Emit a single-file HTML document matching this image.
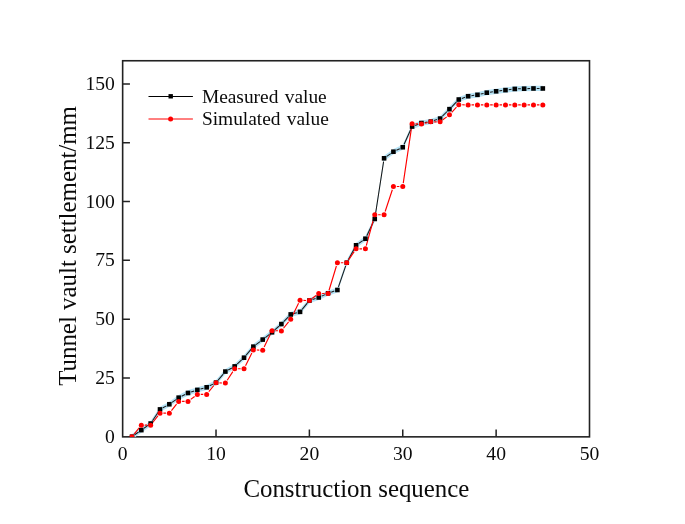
<!DOCTYPE html>
<html><head><meta charset="utf-8"><style>
html,body{margin:0;padding:0;background:#fff;}
body{width:685px;height:524px;overflow:hidden;}
svg{display:block;}
text{font-family:"Liberation Serif",serif;fill:#0a0a0a;}
svg{will-change:transform;}
</style></head><body>
<svg width="685" height="524" viewBox="0 0 685 524">
<defs><filter id="b" x="-5%" y="-5%" width="110%" height="110%"><feGaussianBlur stdDeviation="0.6"/></filter></defs>
<rect width="685" height="524" fill="#fff"/>
<clipPath id="c"><rect x="122.15" y="60" width="467.85" height="377.0"/></clipPath>
<rect x="122.65" y="60.75" width="466.85" height="376.10" fill="none" stroke="#222" stroke-width="1.6"/><path d="M122.65 377.92h7.3M122.65 319.13h7.3M122.65 260.35h7.3M122.65 201.57h7.3M122.65 142.78h7.3M122.65 84.00h7.3M216.02 436.7v-7.3M309.39 436.7v-7.3M402.76 436.7v-7.3M496.13 436.7v-7.3" stroke="#222" stroke-width="1.5" fill="none"/>
<g clip-path="url(#c)"><polygon points="131.99,434.10 141.32,427.52 150.66,420.93 160.00,406.82 169.34,401.65 178.67,395.07 188.01,390.37 197.35,387.31 206.68,384.72 216.02,380.02 225.36,368.97 234.69,363.80 244.03,355.10 253.37,344.04 262.71,336.99 272.04,329.70 281.38,321.47 290.72,311.83 300.05,309.24 309.39,297.96 318.73,294.90 328.06,290.67 337.40,287.38 346.74,260.10 356.08,242.70 365.41,236.12 374.75,216.37 384.09,155.70 393.42,149.12 402.76,144.65 412.10,123.96 421.43,120.43 430.77,119.02 440.11,115.96 449.45,106.56 458.78,96.92 468.12,93.63 477.46,92.22 486.79,90.10 496.13,88.69 505.47,87.51 514.80,86.34 524.14,86.10 533.48,85.87 542.82,85.87 542.82,91.07 533.48,91.07 524.14,91.30 514.80,91.54 505.47,92.71 496.13,93.89 486.79,95.30 477.46,97.42 468.12,98.83 458.78,102.12 449.45,111.76 440.11,121.16 430.77,124.22 421.43,125.63 412.10,129.16 402.76,149.85 393.42,154.32 384.09,160.90 374.75,221.57 365.41,241.32 356.08,247.90 346.74,265.30 337.40,292.58 328.06,295.87 318.73,300.10 309.39,303.16 300.05,314.44 290.72,317.03 281.38,326.67 272.04,334.90 262.71,342.19 253.37,349.24 244.03,360.30 234.69,369.00 225.36,374.17 216.02,385.22 206.68,389.92 197.35,392.51 188.01,395.57 178.67,400.27 169.34,406.85 160.00,412.02 150.66,426.13 141.32,432.72 131.99,439.30" fill="#b6e3f6" filter="url(#b)"/><path d="M134.68 434.80L138.63 432.02M144.02 428.21L147.96 425.43M152.48 420.78L158.18 412.18M162.88 407.83L166.45 405.85M172.03 402.35L175.98 399.57M181.62 396.18L185.06 394.45M191.15 391.94L194.21 390.94M200.53 389.03L203.50 388.20M209.63 385.84L213.07 384.10M218.15 380.10L223.23 374.09M228.24 369.97L231.81 367.99M237.11 364.15L241.62 359.94M246.16 355.17L251.24 349.16M256.00 344.65L260.07 341.58M265.31 337.56L269.44 334.33M274.52 330.12L278.90 326.25M283.67 321.70L288.42 316.80M293.90 313.55L296.87 312.73M302.16 309.30L307.29 303.10M312.53 299.53L315.59 298.53M321.73 296.14L325.06 294.63M331.18 292.17L334.29 291.07M338.47 286.85L345.67 265.82M348.30 259.79L354.51 248.21M358.77 243.40L362.72 240.62M366.82 235.73L373.34 221.95M375.25 215.70L383.58 161.56M386.78 156.40L390.73 153.62M396.40 150.29L399.78 148.68M404.12 144.24L410.74 129.57M415.18 125.39L418.35 124.20M424.70 122.54L427.51 122.11M433.91 120.59L436.97 119.59M442.43 116.22L447.12 111.50M451.74 106.79L456.49 101.89M461.89 98.42L465.01 97.32M471.38 95.73L474.19 95.31M480.67 94.09L483.57 93.43M490.06 92.21L492.87 91.78M499.40 90.88L502.19 90.53M508.74 89.70L511.53 89.35M518.10 88.85L520.84 88.79M527.44 88.62L530.18 88.55M536.78 88.47L539.52 88.47" stroke="#1a1a1a" stroke-width="1.05" fill="none"/><path d="M134.13 434.06L139.18 427.82M144.72 425.18L147.26 425.18M152.75 422.50L157.91 415.87M163.40 413.19L165.94 413.19M171.45 410.52L176.56 404.09M182.07 401.43L184.61 401.43M190.72 399.38L194.63 396.43M200.75 394.38L203.28 394.38M208.82 391.73L213.88 385.50M219.42 382.94L221.96 383.00M227.21 380.24L232.84 371.60M238.09 368.75L240.63 368.75M245.54 365.70L251.86 352.98M256.77 350.02L259.31 350.09M264.17 347.10L270.57 333.72M275.44 330.74L277.98 330.80M283.51 328.24L288.59 321.90M292.22 316.20L298.55 303.37M303.45 300.41L305.99 300.47M312.10 298.51L316.01 295.55M322.13 293.50L324.66 293.50M329.05 290.25L336.41 265.96M340.80 262.70L343.34 262.70M348.64 259.88L354.18 251.65M359.48 248.83L362.01 248.83M366.31 245.55L373.85 218.01M378.15 214.73L380.69 214.73M385.15 211.51L392.35 189.75M396.82 186.52L399.36 186.52M403.26 183.16L411.60 127.10M415.50 123.82L418.04 123.89M424.75 123.22L427.46 122.61M434.17 121.86L436.71 121.86M442.82 119.81L446.73 116.85M451.75 112.30L456.48 107.19M462.18 104.78L464.72 104.84M471.52 104.93L474.06 104.93M480.86 104.93L483.39 104.93M490.19 104.93L492.73 104.93M499.53 104.93L502.07 104.93M508.87 104.93L511.40 104.93M518.20 104.93L520.74 104.93M527.54 104.93L530.08 104.93M536.88 104.93L539.42 104.93" stroke="#ff0000" stroke-width="1.15" fill="none"/><g fill="#000"><rect x="129.69" y="434.40" width="4.6" height="4.6"/><rect x="139.02" y="427.82" width="4.6" height="4.6"/><rect x="148.36" y="421.23" width="4.6" height="4.6"/><rect x="157.70" y="407.12" width="4.6" height="4.6"/><rect x="167.03" y="401.95" width="4.6" height="4.6"/><rect x="176.37" y="395.37" width="4.6" height="4.6"/><rect x="185.71" y="390.67" width="4.6" height="4.6"/><rect x="195.05" y="387.61" width="4.6" height="4.6"/><rect x="204.38" y="385.02" width="4.6" height="4.6"/><rect x="213.72" y="380.32" width="4.6" height="4.6"/><rect x="223.06" y="369.27" width="4.6" height="4.6"/><rect x="232.39" y="364.10" width="4.6" height="4.6"/><rect x="241.73" y="355.40" width="4.6" height="4.6"/><rect x="251.07" y="344.34" width="4.6" height="4.6"/><rect x="260.41" y="337.29" width="4.6" height="4.6"/><rect x="269.74" y="330.00" width="4.6" height="4.6"/><rect x="279.08" y="321.77" width="4.6" height="4.6"/><rect x="288.42" y="312.13" width="4.6" height="4.6"/><rect x="297.75" y="309.54" width="4.6" height="4.6"/><rect x="307.09" y="298.26" width="4.6" height="4.6"/><rect x="316.43" y="295.20" width="4.6" height="4.6"/><rect x="325.76" y="290.97" width="4.6" height="4.6"/><rect x="335.10" y="287.68" width="4.6" height="4.6"/><rect x="344.44" y="260.40" width="4.6" height="4.6"/><rect x="353.78" y="243.00" width="4.6" height="4.6"/><rect x="363.11" y="236.42" width="4.6" height="4.6"/><rect x="372.45" y="216.67" width="4.6" height="4.6"/><rect x="381.79" y="156.00" width="4.6" height="4.6"/><rect x="391.12" y="149.42" width="4.6" height="4.6"/><rect x="400.46" y="144.95" width="4.6" height="4.6"/><rect x="409.80" y="124.26" width="4.6" height="4.6"/><rect x="419.13" y="120.73" width="4.6" height="4.6"/><rect x="428.47" y="119.32" width="4.6" height="4.6"/><rect x="437.81" y="116.26" width="4.6" height="4.6"/><rect x="447.15" y="106.86" width="4.6" height="4.6"/><rect x="456.48" y="97.22" width="4.6" height="4.6"/><rect x="465.82" y="93.93" width="4.6" height="4.6"/><rect x="475.16" y="92.52" width="4.6" height="4.6"/><rect x="484.49" y="90.40" width="4.6" height="4.6"/><rect x="493.83" y="88.99" width="4.6" height="4.6"/><rect x="503.17" y="87.81" width="4.6" height="4.6"/><rect x="512.50" y="86.64" width="4.6" height="4.6"/><rect x="521.84" y="86.40" width="4.6" height="4.6"/><rect x="531.18" y="86.17" width="4.6" height="4.6"/><rect x="540.52" y="86.17" width="4.6" height="4.6"/></g><g fill="#ff0000"><circle cx="131.99" cy="436.70" r="2.5"/><circle cx="141.32" cy="425.18" r="2.5"/><circle cx="150.66" cy="425.18" r="2.5"/><circle cx="160.00" cy="413.19" r="2.5"/><circle cx="169.34" cy="413.19" r="2.5"/><circle cx="178.67" cy="401.43" r="2.5"/><circle cx="188.01" cy="401.43" r="2.5"/><circle cx="197.35" cy="394.38" r="2.5"/><circle cx="206.68" cy="394.38" r="2.5"/><circle cx="216.02" cy="382.85" r="2.5"/><circle cx="225.36" cy="383.09" r="2.5"/><circle cx="234.69" cy="368.75" r="2.5"/><circle cx="244.03" cy="368.75" r="2.5"/><circle cx="253.37" cy="349.94" r="2.5"/><circle cx="262.71" cy="350.17" r="2.5"/><circle cx="272.04" cy="330.65" r="2.5"/><circle cx="281.38" cy="330.89" r="2.5"/><circle cx="290.72" cy="319.25" r="2.5"/><circle cx="300.05" cy="300.32" r="2.5"/><circle cx="309.39" cy="300.56" r="2.5"/><circle cx="318.73" cy="293.50" r="2.5"/><circle cx="328.06" cy="293.50" r="2.5"/><circle cx="337.40" cy="262.70" r="2.5"/><circle cx="346.74" cy="262.70" r="2.5"/><circle cx="356.08" cy="248.83" r="2.5"/><circle cx="365.41" cy="248.83" r="2.5"/><circle cx="374.75" cy="214.73" r="2.5"/><circle cx="384.09" cy="214.73" r="2.5"/><circle cx="393.42" cy="186.52" r="2.5"/><circle cx="402.76" cy="186.52" r="2.5"/><circle cx="412.10" cy="123.74" r="2.5"/><circle cx="421.43" cy="123.97" r="2.5"/><circle cx="430.77" cy="121.86" r="2.5"/><circle cx="440.11" cy="121.86" r="2.5"/><circle cx="449.45" cy="114.80" r="2.5"/><circle cx="458.78" cy="104.69" r="2.5"/><circle cx="468.12" cy="104.93" r="2.5"/><circle cx="477.46" cy="104.93" r="2.5"/><circle cx="486.79" cy="104.93" r="2.5"/><circle cx="496.13" cy="104.93" r="2.5"/><circle cx="505.47" cy="104.93" r="2.5"/><circle cx="514.80" cy="104.93" r="2.5"/><circle cx="524.14" cy="104.93" r="2.5"/><circle cx="533.48" cy="104.93" r="2.5"/><circle cx="542.82" cy="104.93" r="2.5"/></g></g>
<g font-size="19.6px"><text x="114.9" y="442.80" text-anchor="end">0</text><text x="114.9" y="384.02" text-anchor="end">25</text><text x="114.9" y="325.23" text-anchor="end">50</text><text x="114.9" y="266.45" text-anchor="end">75</text><text x="114.9" y="207.67" text-anchor="end">100</text><text x="114.9" y="148.88" text-anchor="end">125</text><text x="114.9" y="90.10" text-anchor="end">150</text><text x="122.65" y="459.5" text-anchor="middle">0</text><text x="216.02" y="459.5" text-anchor="middle">10</text><text x="309.39" y="459.5" text-anchor="middle">20</text><text x="402.76" y="459.5" text-anchor="middle">30</text><text x="496.13" y="459.5" text-anchor="middle">40</text><text x="589.50" y="459.5" text-anchor="middle">50</text></g>

<path d="M148.5 96.5H192.9" stroke="#000" stroke-width="1"/>
<rect x="168.5" y="94.1" width="4.4" height="4.4" fill="#000"/>
<path d="M148.5 119H192.9" stroke="#ff0000" stroke-width="1"/>
<circle cx="170.6" cy="119" r="2.5" fill="#ff0000"/>
<text x="201.9" y="102.8" font-size="19.4px" word-spacing="1.5">Measured value</text>
<text x="201.9" y="125.0" font-size="19.4px" word-spacing="1.4">Simulated value</text>

<text x="356.4" y="496.6" text-anchor="middle" font-size="24.9px">Construction sequence</text>
<text transform="translate(75.5 245.9) rotate(-90)" text-anchor="middle" font-size="24.9px">Tunnel vault settlement/mm</text>
</svg>
</body></html>
